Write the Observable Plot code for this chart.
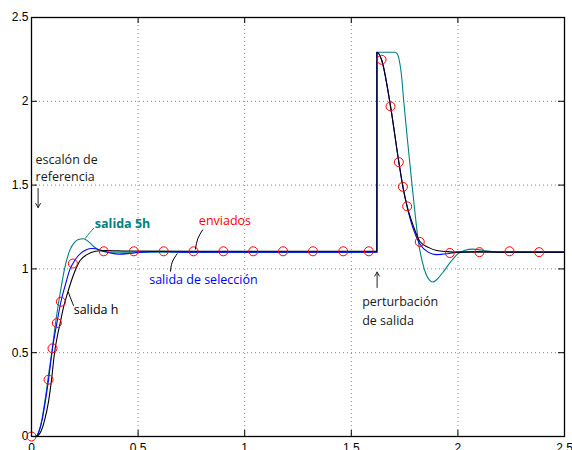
<!DOCTYPE html>
<html><head><meta charset="utf-8">
<script src="https://cdn.jsdelivr.net/npm/d3@7"></script>
<script src="https://cdn.jsdelivr.net/npm/@observablehq/plot@0.6"></script>
<style>body{margin:0;background:#fff}#chart svg{display:block}</style>
</head><body><div id="chart"></div>
<script>
// Tick values
const xTicks = [0, 0.5, 1, 1.5, 2, 2.5];
const yTicks = [0, 0.5, 1, 1.5, 2, 2.5];
const gridTicks = [0.5, 1, 1.5, 2];

// Series: [time, value]
const salidaH = [
  [0,0],[0.02,0],[0.04,0.02],[0.06,0.09],[0.08,0.21],[0.095,0.35],[0.108,0.5],[0.12,0.59],
  [0.135,0.68],[0.15,0.77],[0.17,0.86],[0.19,0.94],[0.205,0.99],[0.228,1.05],[0.26,1.085],
  [0.30,1.105],[0.35,1.11],[0.45,1.107],[1.0,1.105],[1.62,1.105],
  [1.6201,2.293],[1.642,2.248],[1.684,1.97],[1.723,1.637],[1.742,1.49],[1.762,1.373],
  [1.79,1.26],[1.821,1.165],[1.864,1.127],[1.9,1.11],[1.95,1.103],[2.0,1.1],[2.5,1.1]
];
const salidaSeleccion = [
  [0,0],[0.02,0],[0.035,0.03],[0.05,0.10],[0.065,0.21],[0.08,0.339],[0.0985,0.526],[0.119,0.677],
  [0.138,0.804],[0.16,0.91],[0.181,1.0],[0.194,1.032],[0.22,1.08],[0.25,1.11],[0.28,1.122],
  [0.30,1.12],[0.33,1.11],[0.37,1.095],[0.41,1.088],[0.46,1.092],[0.52,1.1],[0.6,1.104],
  [0.7,1.1],[1.62,1.1],
  [1.6201,2.293],[1.642,2.248],[1.684,1.97],[1.723,1.637],[1.742,1.49],[1.762,1.37],
  [1.79,1.24],[1.821,1.15],[1.86,1.1],[1.9,1.085],[1.95,1.09],[2.0,1.1],[2.1,1.104],[2.2,1.1],[2.5,1.1]
];
const salida5h = [
  [0,0],[0.02,0],[0.035,0.03],[0.05,0.11],[0.065,0.23],[0.08,0.37],[0.095,0.5],[0.111,0.661],
  [0.135,0.859],[0.155,1.0],[0.181,1.115],[0.2,1.155],[0.22,1.175],[0.244,1.18],[0.27,1.16],
  [0.29,1.135],[0.314,1.115],[0.34,1.103],[0.38,1.1],[1.62,1.1],
  [1.6201,2.293],[1.705,2.293],[1.715,2.285],[1.725,2.245],[1.735,2.16],[1.746,2.0],
  [1.765,1.75],[1.785,1.5],[1.80,1.32],[1.814,1.167],[1.832,1.048],[1.85,0.97],[1.868,0.932],
  [1.883,0.922],[1.90,0.935],[1.93,0.98],[1.965,1.04],[2.0,1.09],[2.03,1.11],[2.07,1.118],
  [2.12,1.11],[2.2,1.1],[2.5,1.1]
];
const enviados = [
  [0,0],[0.08,0.339],[0.0985,0.526],[0.119,0.677],[0.138,0.804],[0.194,1.032],
  [0.339,1.105],[0.48,1.105],[0.62,1.105],[0.76,1.105],[0.90,1.105],[1.04,1.105],
  [1.18,1.105],[1.32,1.105],[1.462,1.105],[1.582,1.105],
  [1.642,2.248],[1.684,1.97],[1.723,1.637],[1.742,1.49],[1.762,1.373],[1.821,1.161],
  [1.962,1.095],[2.101,1.1],[2.242,1.105],[2.381,1.1]
];

// Annotation texts (data coordinates)
const labels = [
  {text: "escalón de", t: 0.019, v: 1.647, color: "#1a1a1a"},
  {text: "referencia", t: 0.019, v: 1.551, color: "#1a1a1a"},
  {text: "enviados", t: 0.785, v: 1.283, color: "#ff0000"},
  {text: "salida de selección", t: 0.552, v: 0.935, color: "#0000ff"},
  {text: "salida h", t: 0.198, v: 0.756, color: "#000000"},
  {text: "perturbación", t: 1.551, v: 0.805, color: "#1a1a1a"},
  {text: "de salida", t: 1.551, v: 0.692, color: "#1a1a1a"}
];
const boldLabels = [
  {text: "salida 5h", t: 0.297, v: 1.269, color: "#008080"}
];
const leader5h = [[0.292,1.243],[0.274,1.217],[0.253,1.183]];
const leaderEnviados = [[0.803,1.233],[0.780,1.180],[0.769,1.118]];
const leaderSeleccion = [[0.652,0.986],[0.660,1.040],[0.683,1.090]];
const leaderH = [[0.197,0.782],[0.1815,0.831],[0.1735,0.861]];
const arrows = [
  {t1: 0.031, v1: 1.48, t2: 0.031, v2: 1.366},
  {t1: 1.621, v1: 0.889, t2: 1.621, v2: 0.981}
];

const pts = a => a.map(([t, v]) => ({t, v}));
const fmt = d => String(d);
const annFont = "'Open Sans', sans-serif";

const chart = Plot.plot({
  width: 572, height: 450,
  marginLeft: 31, marginRight: 8, marginTop: 17, marginBottom: 14,
  x: {domain: [0, 2.5], axis: null, label: null},
  y: {domain: [0, 2.5], axis: null, label: null},
  style: {fontFamily: "'Liberation Sans', Arial, sans-serif", fontSize: "12px", background: "#fff", color: "#000"},
  marks: [
    Plot.ruleX(gridTicks, {x: d => d, stroke: "#777", strokeDasharray: "1,3", strokeWidth: 0.9}),
    Plot.ruleY(gridTicks, {y: d => d, stroke: "#777", strokeDasharray: "1,3", strokeWidth: 0.9}),
    Plot.ruleX(xTicks, {x: d => d, y1: 0, y2: 0.036, stroke: "#000"}),
    Plot.ruleX(xTicks, {x: d => d, y1: 2.5, y2: 2.464, stroke: "#000"}),
    Plot.ruleY(yTicks, {y: d => d, x1: 0, x2: 0.028, stroke: "#000"}),
    Plot.ruleY(yTicks, {y: d => d, x1: 2.5, x2: 2.472, stroke: "#000"}),
    Plot.axisX(xTicks, {tickSize: 0, tickPadding: 7, fontSize: 12, label: null, tickFormat: fmt}),
    Plot.axisY(yTicks, {tickSize: 0, tickPadding: 3, fontSize: 12, label: null, tickFormat: fmt}),
    Plot.line(pts(salida5h), {x: "t", y: "v", stroke: "#008080", strokeWidth: 1.1, curve: "monotone-x"}),
    Plot.line(pts(salidaSeleccion), {x: "t", y: "v", stroke: "#0000ff", strokeWidth: 1.1, curve: "monotone-x"}),
    Plot.line(pts(salidaH), {x: "t", y: "v", stroke: "#000", strokeWidth: 1.1, curve: "monotone-x"}),
    Plot.dot(pts(enviados), {x: "t", y: "v", r: 4.5, stroke: "#ff0000", fill: "none", strokeWidth: 1}),
    Plot.frame({stroke: "#000", strokeWidth: 1.3}),
    Plot.line(pts(leader5h), {x: "t", y: "v", stroke: "#008080", strokeWidth: 1, curve: "natural"}),
    Plot.line(pts(leaderEnviados), {x: "t", y: "v", stroke: "#000", strokeWidth: 1, curve: "natural"}),
    Plot.line(pts(leaderSeleccion), {x: "t", y: "v", stroke: "#000", strokeWidth: 1, curve: "natural"}),
    Plot.line(pts(leaderH), {x: "t", y: "v", stroke: "#000", strokeWidth: 1, curve: "natural"}),
    Plot.arrow(arrows, {x1: "t1", y1: "v1", x2: "t2", y2: "v2", stroke: "#222", strokeWidth: 1, headLength: 7, headAngle: 60}),
    Plot.text(labels, {x: "t", y: "v", text: "text", fill: "color", textAnchor: "start",
      fontFamily: annFont, fontSize: 12.5}),
    Plot.text(boldLabels, {x: "t", y: "v", text: "text", fill: "color", textAnchor: "start",
      fontFamily: annFont, fontSize: 12.5, fontWeight: "bold"})
  ]
});
document.getElementById("chart").appendChild(chart);
</script>
</body></html>
